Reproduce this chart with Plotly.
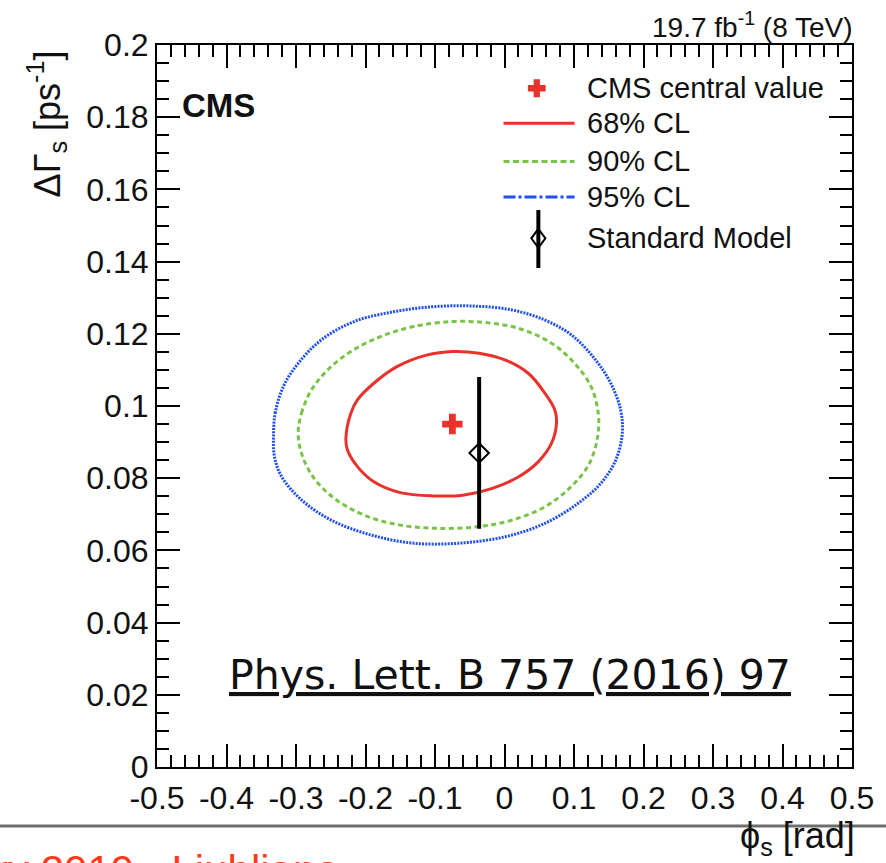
import plotly.graph_objects as go

# ---------------- data ----------------
cl68_phi = [-0.2211, -0.2116, -0.1880, -0.1548, -0.1122, -0.0743, -0.0365, 0.0014, 0.0346, 0.0582,
            0.0724, 0.0748, 0.0677, 0.0488, 0.0204, -0.0175, -0.0601, -0.1027, -0.1501, -0.1880,
            -0.2116, -0.2259, -0.2282]
cl68_dg = [0.0980, 0.1017, 0.1063, 0.1109, 0.1141, 0.1151, 0.1146, 0.1127, 0.1090, 0.1035,
           0.0989, 0.0952, 0.0897, 0.0846, 0.0804, 0.0772, 0.0753, 0.0751, 0.0760, 0.0790,
           0.0832, 0.0878, 0.0910]

cl90_phi = [-0.2969, -0.2921, -0.2779, -0.2543, -0.2211, -0.1785, -0.1312, -0.0743, -0.0270, 0.0204,
            0.0677, 0.1009, 0.1245, 0.1349, 0.1340, 0.1222, 0.0961, 0.0582, 0.0109, -0.0365,
            -0.0933, -0.1501, -0.2022, -0.2448, -0.2756, -0.2921]
cl90_dg = [0.0924, 0.0980, 0.1044, 0.1100, 0.1151, 0.1192, 0.1220, 0.1234, 0.1231, 0.1215,
           0.1174, 0.1118, 0.1054, 0.0980, 0.0915, 0.0841, 0.0777, 0.0721, 0.0684, 0.0666,
           0.0661, 0.0670, 0.0698, 0.0744, 0.0804, 0.0869]

cl95_phi = [-0.3324, -0.3300, -0.3182, -0.2969, -0.2637, -0.2164, -0.1596, -0.1027, -0.0459, 0.0109,
            0.0582, 0.0961, 0.1293, 0.1529, 0.1671, 0.1695, 0.1600, 0.1387, 0.1056, 0.0582,
            0.0014, -0.0649, -0.1312, -0.1927, -0.2495, -0.2921, -0.3206, -0.3310]
cl95_dg = [0.0915, 0.0980, 0.1054, 0.1118, 0.1183, 0.1234, 0.1261, 0.1275, 0.1277, 0.1266,
           0.1238, 0.1197, 0.1132, 0.1063, 0.0989, 0.0924, 0.0850, 0.0786, 0.0730, 0.0675,
           0.0638, 0.0620, 0.0620, 0.0643, 0.0684, 0.0740, 0.0804, 0.0860]

cms_phi = [-0.075]
cms_dg = [0.095]

sm_phi = [-0.0365]
sm_dg = [0.087]
sm_err = [0.021]

x_tickvals = [-0.5, -0.4, -0.3, -0.2, -0.1, 0.0, 0.1, 0.2, 0.3, 0.4, 0.5]
x_ticktext = ["-0.5", "-0.4", "-0.3", "-0.2", "-0.1", "0", "0.1", "0.2", "0.3", "0.4", "0.5"]
y_tickvals = [0.0, 0.02, 0.04, 0.06, 0.08, 0.1, 0.12, 0.14, 0.16, 0.18, 0.2]
y_ticktext = ["0", "0.02", "0.04", "0.06", "0.08", "0.1", "0.12", "0.14", "0.16", "0.18", "0.2"]

legend_labels = ["CMS central value", "68% CL", "90% CL", "95% CL", "Standard Model"]

# ---------------- layout helpers ----------------
W, H = 886, 863
L, R, T, B = 157, 861, 45, 767
FONT = "Liberation Sans, Arial, Helvetica, sans-serif"
RED = "#e8322b"
GREEN = "#78c447"
BLUE = "#2050f0"


def fx(px):
    return (px - L) / (R - L)


def fy(py):
    return (B - py) / (B - T)


def closed(a):
    return list(a) + [a[0]]


fig = go.Figure()

fig.add_trace(go.Scatter(x=closed(cl95_phi), y=closed(cl95_dg), mode="lines",
                         line=dict(color=BLUE, width=3, dash="2px,1.2px", shape="spline", smoothing=1.0),
                         showlegend=False, hoverinfo="skip"))
fig.add_trace(go.Scatter(x=closed(cl90_phi), y=closed(cl90_dg), mode="lines",
                         line=dict(color=GREEN, width=3, dash="5px,3.5px", shape="spline", smoothing=1.0),
                         showlegend=False, hoverinfo="skip"))
fig.add_trace(go.Scatter(x=closed(cl68_phi), y=closed(cl68_dg), mode="lines",
                         line=dict(color=RED, width=3, shape="spline", smoothing=1.0),
                         showlegend=False, hoverinfo="skip"))
fig.add_trace(go.Scatter(x=cms_phi, y=cms_dg, mode="markers",
                         marker=dict(symbol="cross", size=17, color=RED, line=dict(width=0)),
                         showlegend=False, hoverinfo="skip"))
fig.add_trace(go.Scatter(x=sm_phi, y=sm_dg, mode="markers",
                         marker=dict(symbol="diamond-open", size=15, color="black", line=dict(width=2)),
                         error_y=dict(type="data", array=sm_err, visible=True, thickness=4, width=0, color="black"),
                         showlegend=False, hoverinfo="skip"))

shapes = []
annotations = []

# legend
rows = [88.3, 123.3, 161.5, 197.0, 238.3]
lx0, lx1, ltext = 508, 580, 593

# cross glyph
cx, cy, a, t = 541.7, 88.3, 9, 3.2
pts = [(cx - t, cy - a), (cx + t, cy - a), (cx + t, cy - t), (cx + a, cy - t), (cx + a, cy + t),
       (cx + t, cy + t), (cx + t, cy + a), (cx - t, cy + a), (cx - t, cy + t), (cx - a, cy + t),
       (cx - a, cy - t), (cx - t, cy - t)]
path = "M " + " L ".join(f"{fx(px):.5f},{fy(py):.5f}" for px, py in pts) + " Z"
shapes.append(dict(type="path", xref="paper", yref="paper", path=path, fillcolor=RED,
                   line=dict(width=0), layer="above"))
# line glyphs
shapes.append(dict(type="line", xref="paper", yref="paper", x0=fx(lx0), x1=fx(lx1), y0=fy(rows[1]), y1=fy(rows[1]),
                   line=dict(color=RED, width=3), layer="above"))
shapes.append(dict(type="line", xref="paper", yref="paper", x0=fx(lx0), x1=fx(lx1), y0=fy(rows[2]), y1=fy(rows[2]),
                   line=dict(color=GREEN, width=3, dash="6px,3.5px"), layer="above"))
shapes.append(dict(type="line", xref="paper", yref="paper", x0=fx(lx0), x1=fx(lx1), y0=fy(rows[3]), y1=fy(rows[3]),
                   line=dict(color=BLUE, width=3, dash="12px,3px,3px,3px"), layer="above"))
# SM glyph
shapes.append(dict(type="line", xref="paper", yref="paper", x0=fx(543.3), x1=fx(543.3), y0=fy(210), y1=fy(268),
                   line=dict(color="black", width=4), layer="above"))
dx, dy, d = 543.3, 238.3, 9.5
dpts = [(dx, dy - d), (dx + d * 0.75, dy), (dx, dy + d), (dx - d * 0.75, dy)]
dpath = "M " + " L ".join(f"{fx(px):.5f},{fy(py):.5f}" for px, py in dpts) + " Z"
shapes.append(dict(type="path", xref="paper", yref="paper", path=dpath, fillcolor="rgba(0,0,0,0)",
                   line=dict(color="black", width=2), layer="above"))

for lab, ry in zip(legend_labels, rows):
    annotations.append(dict(text=lab, x=fx(ltext - 2), y=fy(ry), xref="paper", yref="paper",
                            xanchor="left", yanchor="middle", showarrow=False,
                            font=dict(family=FONT, size=29, color="#111")))

# texts
annotations.append(dict(text="19.7 fb<sup>-1</sup> (8 TeV)", x=fx(864), y=fy(45), xref="paper", yref="paper",
                        xanchor="right", yanchor="bottom", showarrow=False,
                        font=dict(family=FONT, size=28, color="#111")))
annotations.append(dict(text="<b>CMS</b>", x=fx(180), y=fy(106), xref="paper", yref="paper",
                        xanchor="left", yanchor="middle", showarrow=False,
                        font=dict(family=FONT, size=33, color="#111")))
annotations.append(dict(text="ΔΓ<sub>s</sub> [ps<sup>-1</sup>]", x=fx(46), y=fy(124), xref="paper", yref="paper",
                        xanchor="center", yanchor="middle", textangle=-90, showarrow=False,
                        font=dict(family=FONT, size=36, color="#111")))
annotations.append(dict(text="ϕ<sub>s</sub> [rad]", x=fx(866), y=fy(838), xref="paper", yref="paper",
                        xanchor="right", yanchor="middle", showarrow=False,
                        font=dict(family=FONT, size=36, color="#111")))
annotations.append(dict(text="<u>Phys. Lett. B 757 (2016) 97</u>", x=fx(228), y=fy(675), xref="paper", yref="paper",
                        xanchor="left", yanchor="middle", showarrow=False,
                        font=dict(family="DejaVu Sans", size=41, color="#111")))
annotations.append(dict(text="February 2019 - Ljubljana", x=fx(344), y=fy(870), xref="paper", yref="paper",
                        xanchor="right", yanchor="middle", showarrow=False,
                        font=dict(family=FONT, size=42, color="#ff3a1a")))

# gray separator line
shapes.append(dict(type="line", xref="paper", yref="paper", x0=fx(-10), x1=fx(900), y0=fy(826), y1=fy(826),
                   line=dict(color="#6e6e6e", width=3), layer="above"))

axis_common = dict(showline=True, linecolor="black", linewidth=2, mirror="ticks",
                   ticks="inside", ticklen=23, tickwidth=2, tickcolor="black",
                   showgrid=False, zeroline=False,
                   tickfont=dict(family=FONT, size=32, color="#111"))

fig.update_layout(
    width=W, height=H, autosize=False,
    margin=dict(l=L, r=W - R, t=T, b=H - B, pad=0),
    paper_bgcolor="white", plot_bgcolor="white",
    showlegend=False,
    xaxis=dict(range=[-0.5, 0.5], tickmode="array", tickvals=x_tickvals, ticktext=x_ticktext,
               minor=dict(dtick=0.02, tick0=0, ticks="inside", ticklen=12, tickwidth=2, tickcolor="black"),
               ticklabelstandoff=2,
               **axis_common),
    yaxis=dict(range=[0, 0.2], tickmode="array", tickvals=y_tickvals, ticktext=y_ticktext,
               minor=dict(dtick=0.005, tick0=0, ticks="inside", ticklen=12, tickwidth=2, tickcolor="black"),
               **axis_common),
    shapes=shapes,
    annotations=annotations,
)

fig.write_html("out.html")
